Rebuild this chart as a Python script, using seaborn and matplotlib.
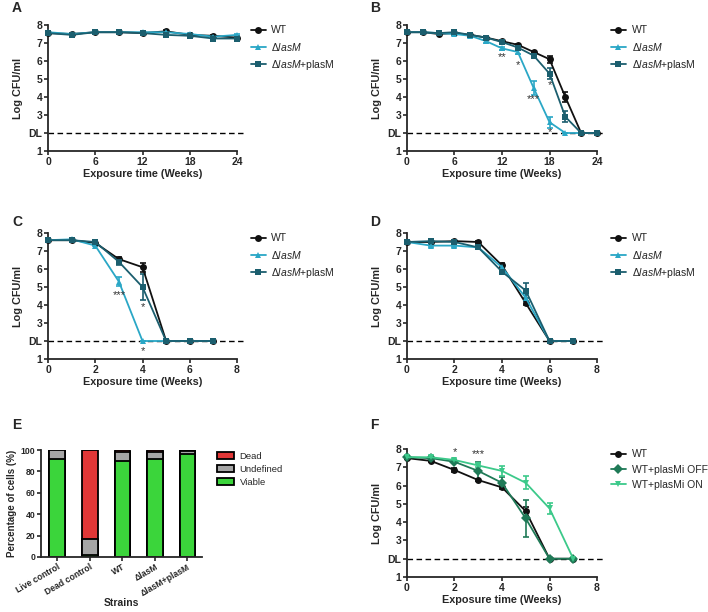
import numpy as np
import pandas as pd
import matplotlib
matplotlib.use("Agg")
import matplotlib.pyplot as plt
import seaborn as sns

sns.set_style("ticks")
plt.rcParams['font.family'] = ['Liberation Sans', 'DejaVu Sans']
plt.rcParams['mathtext.fontset'] = 'custom'
plt.rcParams['mathtext.rm'] = 'Liberation Sans'
plt.rcParams['mathtext.it'] = 'Liberation Sans:italic'

# ---- data ----
strains = ['WT', '$\\Delta\\it{lasM}$', '$\\Delta\\it{lasM}$+plasM']
strain_colors = ['#111111', '#2aa7c6', '#1b5e6e']
strain_markers = ['o', '^', 's']

# A
weeks_a = [0, 3, 6, 9, 12, 15, 18, 21, 24]
wt_a = [7.55, 7.5, 7.6, 7.6, 7.55, 7.65, 7.45, 7.4, 7.3]
mut_a = [7.6, 7.5, 7.6, 7.6, 7.6, 7.6, 7.5, 7.35, 7.45]
comp_a = [7.55, 7.45, 7.6, 7.6, 7.55, 7.45, 7.4, 7.25, 7.25]
err_wt_a = [0.05, 0.03, 0.05, 0.05, 0.05, 0.05, 0.05, 0.05, 0.05]
err_mut_a = [0.05, 0.03, 0.05, 0.05, 0.05, 0.05, 0.05, 0.05, 0.05]
err_comp_a = [0.05, 0.03, 0.05, 0.05, 0.05, 0.1, 0.05, 0.08, 0.08]

# B
weeks_b = [0, 2, 4, 6, 8, 10, 12, 14, 16, 18, 20, 22, 24]
wt_b = [7.6, 7.6, 7.5, 7.55, 7.45, 7.3, 7.1, 6.9, 6.5, 6.1, 4.0, 2.0, 2.0]
mut_b = [7.6, 7.6, 7.55, 7.5, 7.4, 7.1, 6.7, 6.5, 4.5, 2.6, 2.0, 2.0, 2.0]
comp_b = [7.6, 7.6, 7.55, 7.6, 7.45, 7.3, 7.05, 6.75, 6.3, 5.3, 2.9, 2.0, 2.0]
err_wt_b = [0.05, 0.05, 0.05, 0.05, 0.05, 0.05, 0.05, 0.05, 0.08, 0.2, 0.3, 0, 0]
err_mut_b = [0.05, 0.05, 0.05, 0.05, 0.05, 0.08, 0.1, 0.1, 0.4, 0.3, 0, 0, 0]
err_comp_b = [0.05, 0.05, 0.05, 0.05, 0.05, 0.1, 0.1, 0.1, 0.15, 0.3, 0.3, 0, 0]
stars_b = [(12, 6.2, '**'), (14, 5.75, '*'), (16, 3.9, '***'), (18, 4.65, '*'), (18, 2.05, '*')]

# C
weeks_c = [0, 1, 2, 3, 4, 5, 6, 7]
wt_c = [7.6, 7.6, 7.45, 6.55, 6.1, 2.0, 2.0, 2.0]
mut_c = [7.6, 7.65, 7.3, 5.3, 2.0, 2.0, 2.0, 2.0]
comp_c = [7.6, 7.6, 7.5, 6.4, 5.0, 2.0, 2.0, 2.0]
err_wt_c = [0.05, 0.05, 0.05, 0.1, 0.25, 0, 0, 0]
err_mut_c = [0.05, 0.05, 0.05, 0.25, 0, 0, 0, 0]
err_comp_c = [0.05, 0.05, 0.05, 0.2, 0.7, 0, 0, 0]
stars_c = [(3, 4.55, '***'), (4, 3.9, '*'), (4, 1.45, '*')]

# D
weeks_d = [0, 1, 2, 3, 4, 5, 6, 7]
wt_d = [7.5, 7.5, 7.55, 7.5, 6.2, 4.1, 2.0, 2.0]
mut_d = [7.5, 7.3, 7.3, 7.2, 6.1, 4.4, 2.0, 2.0]
comp_d = [7.5, 7.55, 7.5, 7.2, 5.85, 4.8, 2.0, 2.0]
err_wt_d = [0.05, 0.05, 0.05, 0.05, 0.15, 0.1, 0, 0]
err_mut_d = [0.05, 0.1, 0.08, 0.05, 0.15, 0.2, 0, 0]
err_comp_d = [0.05, 0.05, 0.05, 0.05, 0.1, 0.4, 0, 0]

# E
e_cats = ['Live control', 'Dead control', 'WT', '\u0394lasM', '\u0394lasM+plasM']
viable_e = [92, 2, 90, 92, 96]
undefined_e = [8, 15, 8, 6, 3]
dead_e = [0, 83, 2, 2, 1]

# F
f_strains = ['WT', 'WT+plasMi OFF', 'WT+plasMi ON']
f_colors = ['#111111', '#1f7a57', '#3cc98a']
f_markers = ['o', 'D', 'v']
weeks_f = [0, 1, 2, 3, 4, 5, 6, 7]
wt_f = [7.5, 7.35, 6.85, 6.3, 5.9, 4.6, 2.0, 2.0]
off_f = [7.55, 7.5, 7.3, 6.8, 6.15, 4.2, 2.0, 2.0]
on_f = [7.55, 7.55, 7.4, 7.1, 6.8, 6.15, 4.75, 2.0]
err_wt_f = [0.05, 0.05, 0.1, 0.05, 0.1, 0.25, 0, 0]
err_off_f = [0.05, 0.05, 0.05, 0.5, 0.3, 1.0, 0, 0]
err_on_f = [0.05, 0.05, 0.05, 0.1, 0.25, 0.35, 0.3, 0]
stars_f = [(2, 7.85, '*'), (3, 7.7, '***')]

W, H = 708, 612
fig = plt.figure(figsize=(W / 100, H / 100), dpi=100)


def px_axes(l, t, r, b):
    return fig.add_axes([l / W, 1 - b / H, (r - l) / W, (b - t) / H])


def survival_panel(ax, weeks, series, errs, names, colors, markers, xmax, xstep, stars=()):
    rows = []
    for name, vals in zip(names, series):
        for w, v in zip(weeks, vals):
            rows.append({'week': w, 'log': v, 'strain': name})
    df = pd.DataFrame(rows)
    ax.axhline(2, color='black', ls=(0, (4, 2.5)), lw=1, xmin=0, xmax=1.03, clip_on=False, zorder=1)
    sns.lineplot(data=df, x='week', y='log', hue='strain', style='strain',
                 palette=dict(zip(names, colors)), markers=dict(zip(names, markers)),
                 dashes=False, lw=1.3, markersize=5, markeredgewidth=0,
                 ax=ax, clip_on=False, zorder=3)
    for vals, e, c in zip(series, errs, colors):
        ax.errorbar(weeks, vals, yerr=e, fmt='none', ecolor=c, elinewidth=1.2,
                    capsize=2.5, capthick=1.2, clip_on=False, zorder=2)
    for x, y, s in stars:
        ax.text(x, y, s, ha='center', va='center', fontsize=8, color='#333333')
    ax.set_xlim(0, xmax)
    ax.set_ylim(1, 8)
    ax.set_xticks(np.arange(0, xmax + 1, xstep))
    ax.set_yticks(range(1, 9))
    ax.set_yticklabels(['1', 'DL', '3', '4', '5', '6', '7', '8'])
    ax.set_xlabel('Exposure time (Weeks)', fontsize=7.8, fontweight='bold', labelpad=2)
    ax.set_ylabel('Log CFU/ml', fontsize=7.8, fontweight='bold', labelpad=4)
    for lab in ax.get_xticklabels() + ax.get_yticklabels():
        lab.set_fontweight('bold')
        lab.set_fontsize(7.5)
    ax.tick_params(width=1.2, length=3, pad=1)
    for sp in ['left', 'bottom']:
        ax.spines[sp].set_linewidth(1.3)
    sns.despine(ax=ax)
    leg = ax.legend(loc='upper left', bbox_to_anchor=(1.05, 1.03), frameon=False,
                    fontsize=7.5, handlelength=1.5, labelspacing=0.5, handletextpad=0.5,
                    borderaxespad=0)
    for line in leg.get_lines():
        line.set_linewidth(1.3)


axA = px_axes(48, 25, 237, 151)
survival_panel(axA, weeks_a, [wt_a, mut_a, comp_a], [err_wt_a, err_mut_a, err_comp_a],
               strains, strain_colors, strain_markers, 24, 6)
axB = px_axes(407, 25, 597, 151)
survival_panel(axB, weeks_b, [wt_b, mut_b, comp_b], [err_wt_b, err_mut_b, err_comp_b],
               strains, strain_colors, strain_markers, 24, 6, stars_b)
axC = px_axes(48, 233, 237, 359)
survival_panel(axC, weeks_c, [wt_c, mut_c, comp_c], [err_wt_c, err_mut_c, err_comp_c],
               strains, strain_colors, strain_markers, 8, 2, stars_c)
axD = px_axes(407, 233, 597, 359)
survival_panel(axD, weeks_d, [wt_d, mut_d, comp_d], [err_wt_d, err_mut_d, err_comp_d],
               strains, strain_colors, strain_markers, 8, 2)
axF = px_axes(407, 449, 597, 577)
survival_panel(axF, weeks_f, [wt_f, off_f, on_f], [err_wt_f, err_off_f, err_on_f],
               f_strains, f_colors, f_markers, 8, 2, stars_f)

# E stacked bars
axE = px_axes(41, 450, 202, 557)
viable = np.array(viable_e)
undef_top = viable + np.array(undefined_e)
dead_top = undef_top + np.array(dead_e)
for tops, col, lab in [(dead_top, '#ff1a1a', 'Dead'), (undef_top, '#a6a6a6', 'Undefined'),
                       (viable, '#22ee22', 'Viable')]:
    sns.barplot(x=e_cats, y=tops, color=col, edgecolor='black', linewidth=1.3,
                width=0.48, ax=axE, label=lab)
axE.set_ylim(0, 100)
axE.set_yticks(range(0, 101, 20))
axE.set_xlim(-0.5, 4.45)
axE.set_xticks(range(5))
axE.set_xticklabels(e_cats, rotation=30, ha='right', rotation_mode='anchor')
axE.set_xlabel('Strains', fontsize=7.5, fontweight='bold', labelpad=0)
axE.set_ylabel('Percentage of cells (%)', fontsize=7, fontweight='bold', labelpad=3)
for lab in axE.get_xticklabels() + axE.get_yticklabels():
    lab.set_fontweight('bold')
    lab.set_fontsize(6.2)
axE.tick_params(width=1.2, length=3, pad=1)
for sp in ['left', 'bottom']:
    axE.spines[sp].set_linewidth(1.3)
sns.despine(ax=axE)
axE.legend(loc='upper left', bbox_to_anchor=(1.07, 1.02), frameon=False, fontsize=6.8,
           handlelength=1.8, handleheight=0.9, labelspacing=0.4, handletextpad=0.6,
           borderaxespad=0)

for letter, x, y in [('A', 12, 8), ('B', 370, 8), ('C', 12, 222), ('D', 370, 222),
                     ('E', 12, 425), ('F', 370, 425)]:
    fig.text(x / W, 1 - y / H, letter, fontsize=10, fontweight='bold', va='center')

fig.savefig('out.png', dpi=100)
